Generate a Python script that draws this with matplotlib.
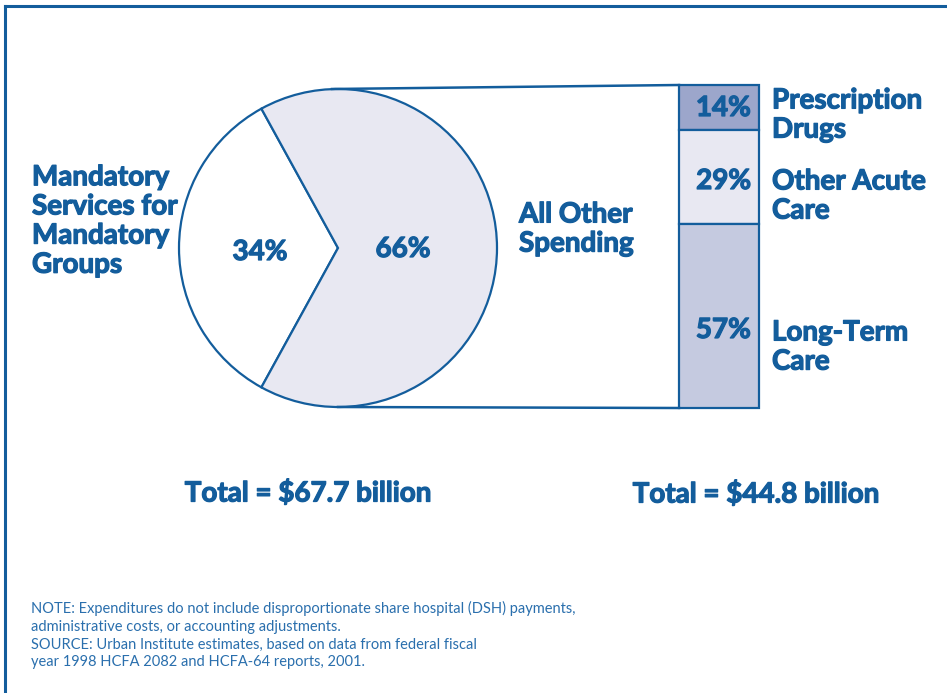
import matplotlib.pyplot as plt
import matplotlib.patheffects as pe
import numpy as np

# pie: mandatory vs everything else
pie_labels = ['34%', '66%']
pie_values = [34, 66]
# breakdown of the "all other" slice
bar_labels = ['Prescription\nDrugs', 'Other Acute\nCare', 'Long-Term\nCare']
bar_pcts = ['14%', '29%', '57%']
bar_values = [14, 29, 57]
totals = ['Total = $67.7 billion', 'Total = $44.8 billion']
note = ("NOTE: Expenditures do not include disproportionate share hospital (DSH) payments,\n"
        "administrative costs, or accounting adjustments.\n"
        "SOURCE: Urban Institute estimates, based on data from federal fiscal\n"
        "year 1998 HCFA 2082 and HCFA-64 reports, 2001.")

BLUE = '#135d9c'
NOTE_BLUE = '#2a6fad'
pie_colors = ['white', '#e8e8f2']
bar_colors = ['#9ca6cb', '#e8e8f2', '#c5cae0']

plt.rcParams['font.family'] = ['Lato', 'DejaVu Sans']

W, H = 947, 693
fig = plt.figure(figsize=(W / 100, H / 100), dpi=100)
ax = fig.add_axes([0, 0, 1, 1])
ax.set_zorder(2)

cx, cy, r = 338, 248, 159
ax.pie(pie_values, colors=pie_colors, center=(cx, cy), radius=r,
       startangle=180 - pie_values[0] * 1.8, counterclock=True, frame=True,
       wedgeprops=dict(edgecolor=BLUE, linewidth=1.6))
ax.set_xlim(0, W)
ax.set_ylim(H, 0)
ax.set_aspect('equal')
ax.axis('off')

# stacked bar in its own axes, 0-100 from the top
bx0, bx1, by0, by1 = 679, 759, 85, 408
bax = fig.add_axes([bx0 / W, 1 - by1 / H, (bx1 - bx0) / W, (by1 - by0) / H])
bax.set_zorder(1)
bottoms = np.concatenate([[0], np.cumsum(bar_values)[:-1]])
bars = bax.bar(0, bar_values, bottom=bottoms, width=1, color=bar_colors,
               edgecolor=BLUE, linewidth=1.6)
for b in bars:
    b.set_clip_on(False)
bax.set_xlim(-0.5, 0.5)
bax.set_ylim(100, 0)
bax.axis('off')

# connectors from the pie to the bar
ax.plot([cx - 6, bx0], [cy - r, by0], color=BLUE, lw=1.8)
ax.plot([cx, bx0], [cy + r, by1], color=BLUE, lw=1.8)

# outer frame (top and left edges only)
ax.plot([5, W], [6, 6], color=BLUE, lw=2.2, clip_on=False)
ax.plot([5, 5], [6, H], color=BLUE, lw=2.2, clip_on=False)

heavy = [pe.withStroke(linewidth=0.9, foreground=BLUE)]
bold = dict(color=BLUE, fontweight='bold', fontsize=20, path_effects=heavy)
ax.text(32, 221, 'Mandatory\nServices for\nMandatory\nGroups', ha='left',
        va='center', linespacing=1.15, **bold)
ax.text(260, 252, pie_labels[0], ha='center', va='center', **bold)
ax.text(403, 249, pie_labels[1], ha='center', va='center', **bold)
ax.text(519, 229, 'All Other\nSpending', ha='left', va='center',
        linespacing=1.15, **bold)

pct_y = [108, 181, 330]
lab_y = [115, 196, 347]
for i in range(3):
    ax.text(751, pct_y[i], bar_pcts[i], ha='right', va='center', **bold)
    ax.text(772, lab_y[i], bar_labels[i], ha='left', va='center',
            linespacing=1.15, **bold)

ax.text(308, 493, totals[0], ha='center', va='center', **bold)
ax.text(756, 494, totals[1], ha='center', va='center', **bold)

ax.text(31, 635, note, ha='left', va='center', color=NOTE_BLUE,
        fontsize=10.5, linespacing=1.35)

fig.savefig('out.png', dpi=100)
